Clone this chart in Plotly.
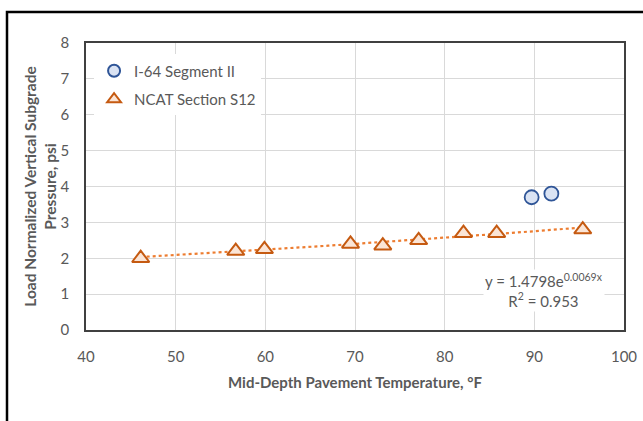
import numpy as np
import plotly.graph_objects as go

# Data
i64_temp = [89.7, 91.9]
i64_pressure = [3.7, 3.8]

ncat_temp = [46.1, 56.7, 59.9, 69.5, 73.1, 77.1, 82.1, 85.8, 95.4]
ncat_pressure = [2.0, 2.2, 2.25, 2.4, 2.35, 2.5, 2.7, 2.7, 2.8]

# Exponential trendline as printed on the chart
trend_a = 1.4798
trend_b = 0.0069
trend_r2 = 0.953

x_ticks = [40, 50, 60, 70, 80, 90, 100]
y_ticks = [0, 1, 2, 3, 4, 5, 6, 7, 8]

FONT = "Lato"
TICK_COLOR = "#595959"

tx = np.linspace(min(ncat_temp), max(ncat_temp), 60)
ty = trend_a * np.exp(trend_b * tx)

fig = go.Figure()

fig.add_trace(go.Scatter(
    x=tx, y=ty, mode="lines", showlegend=False, hoverinfo="skip",
    line=dict(color="#ED7D31", width=2.2, dash="dot"),
))

fig.add_trace(go.Scatter(
    x=i64_temp, y=i64_pressure, mode="markers", name="I-64 Segment II",
    legendgroup="a",
    marker=dict(symbol="circle", size=14, color="#DAE3F3",
                line=dict(color="#2F5597", width=1.8)),
))

fig.add_trace(go.Scatter(
    x=ncat_temp, y=ncat_pressure, mode="markers", name="NCAT Section S12",
    legendgroup="b",
    marker=dict(symbol="triangle-up", size=15, color="#FBE5D6",
                line=dict(color="#C55A11", width=2)),
))

W, H = 643, 421
L, R, T, B = 86, 19, 43, 91
pw, ph = W - L - R, H - T - B

def px_x(p):
    return (p - L) / pw

def px_y(p):
    return 1 - (p - T) / ph

fig.add_annotation(
    x=91.1, y=1.09, xref="x", yref="y",
    text="y = 1.4798e<sup>0.0069x</sup><br>R<sup>2</sup> = 0.953",
    showarrow=False, align="center",
    font=dict(family=FONT, size=15, color=TICK_COLOR),
    bgcolor="white", xanchor="center", yanchor="middle",
)

# outer image frame
fig.add_shape(type="rect", xref="paper", yref="paper",
              x0=px_x(7), x1=px_x(660), y0=px_y(440), y1=px_y(12),
              line=dict(color="black", width=2.5), fillcolor="rgba(0,0,0,0)",
              layer="above")

fig.update_layout(
    width=W, height=H,
    margin=dict(l=L, r=R, t=T, b=B),
    paper_bgcolor="white", plot_bgcolor="white",
    font=dict(family=FONT, size=15, color=TICK_COLOR),
    legend=dict(x=0.015, y=0.96, xanchor="left", yanchor="top",
                bgcolor="white", font=dict(family=FONT, size=15, color=TICK_COLOR),
                itemsizing="constant", tracegroupgap=6, itemwidth=30),
    xaxis=dict(range=[40, 100], tickvals=x_ticks, showgrid=True,
               gridcolor="#D9D9D9", gridwidth=1, zeroline=False,
               showline=True, linecolor="#404040", linewidth=1.5, mirror=True,
               ticks="outside", ticklen=12, tickcolor="rgba(0,0,0,0)",
               automargin=False,
               tickfont=dict(family=FONT, size=15, color=TICK_COLOR),
               title=dict(text="<b>Mid-Depth Pavement Temperature, °F</b>",
                          font=dict(family=FONT, size=15, color=TICK_COLOR), standoff=14)),
    yaxis=dict(range=[0, 8], tickvals=y_ticks, showgrid=True,
               gridcolor="#D9D9D9", gridwidth=1, zeroline=False,
               showline=True, linecolor="#404040", linewidth=1.5, mirror=True,
               ticks="outside", ticklen=12, tickcolor="rgba(0,0,0,0)",
               automargin=False,
               tickfont=dict(family=FONT, size=15, color=TICK_COLOR),
               title=dict(text="<b>Load Normalized Vertical Subgrade<br>Pressure, psi</b>",
                          font=dict(family=FONT, size=15.5, color=TICK_COLOR), standoff=0)),
)

fig.write_html("out.html")
